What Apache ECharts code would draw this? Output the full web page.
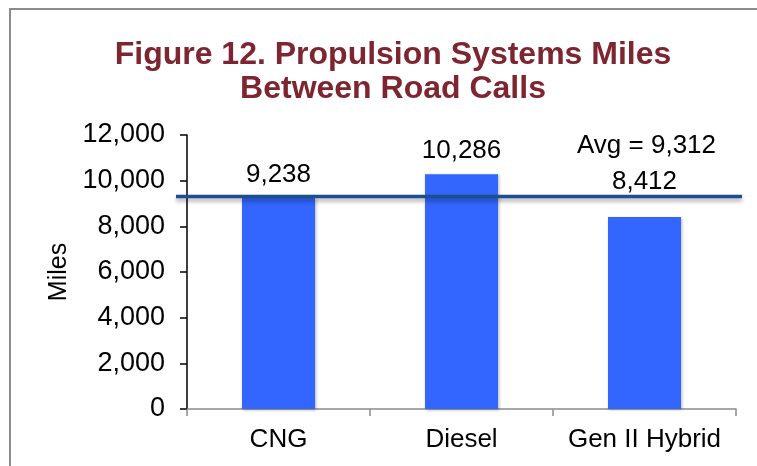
<!DOCTYPE html>
<html lang="en">

<head>
    <meta charset="UTF-8" />
    <title>Figure 12</title>
    <style>
        html, body {
            margin: 0;
            padding: 0;
            background: #fff;
        }

        #chart {
            width: 757px;
            height: 466px;
        }
    </style>
</head>

<body>
    <div id="chart"></div>

    <script src="https://cdn.jsdelivr.net/npm/echarts@6/dist/echarts.min.js"></script>
    <script>
        // data
        const categories = ['CNG', 'Diesel', 'Gen II Hybrid']
        const milesValues = [9238, 10286, 8412]
        const avgValue = 9312
        const yTicks = { min: 0, max: 12000, interval: 2000 }

        const font = 'Liberation Sans, Arial, sans-serif'
        const fmt = v => v.toLocaleString('en-US')

        // bar data, the hybrid label sits a bit higher like in the original
        const barData = milesValues.map((v, i) => {
            const item = { value: v }
            if (i === 2) item.label = { distance: 22 }
            return item
        })

        const chart = echarts.init(document.getElementById('chart'))

        const option = {
            backgroundColor: '#fff',
            animation: false,
            title: {
                text: 'Figure 12. Propulsion Systems Miles\nBetween Road Calls',
                left: 388,
                top: 33,
                textAlign: 'center',
                textStyle: {
                    fontFamily: font,
                    fontSize: 32,
                    fontWeight: 'bold',
                    color: '#7d2530',
                    lineHeight: 34
                }
            },
            graphic: [
                {
                    // outer chart border (runs off right/bottom edge)
                    type: 'rect',
                    shape: { x: 10, y: 9, width: 800, height: 500 },
                    style: { fill: 'none', stroke: '#8c8c8c', lineWidth: 2 },
                    silent: true
                },
                {
                    type: 'text',
                    left: 577,
                    top: 133,
                    style: {
                        text: 'Avg = ' + fmt(avgValue),
                        font: '26px ' + font,
                        fill: '#000'
                    }
                }
            ],
            grid: [
                { left: 187, right: 21, top: 135, bottom: 57 },
                // wider grid only for the average line
                { left: 176, right: 15, top: 135, bottom: 57 }
            ],
            xAxis: [
                {
                    type: 'category',
                    gridIndex: 0,
                    data: categories,
                    axisLine: { lineStyle: { color: '#8c8c8c', width: 1.5 } },
                    axisTick: { show: true, length: 7, lineStyle: { color: '#8c8c8c', width: 1.5 } },
                    axisLabel: {
                        color: '#000',
                        fontSize: 26,
                        fontFamily: font,
                        margin: 18,
                        interval: 0,
                        hideOverlap: false
                    }
                },
                { type: 'value', gridIndex: 1, min: 0, max: 1, show: false }
            ],
            yAxis: [
                {
                    type: 'value',
                    gridIndex: 0,
                    min: yTicks.min,
                    max: yTicks.max,
                    interval: yTicks.interval,
                    name: 'Miles',
                    nameLocation: 'middle',
                    nameGap: 112,
                    nameRotate: 90,
                    nameTextStyle: { color: '#000', fontSize: 25, fontFamily: font },
                    splitLine: { show: false },
                    axisLine: { show: true, lineStyle: { color: '#000', width: 1.5 } },
                    axisTick: { show: true, length: 7, lineStyle: { color: '#000', width: 1.5 } },
                    axisLabel: {
                        color: '#000',
                        fontSize: 27,
                        fontFamily: font,
                        margin: 22,
                        formatter: v => fmt(v)
                    }
                },
                { type: 'value', gridIndex: 1, min: yTicks.min, max: yTicks.max, show: false }
            ],
            series: [
                {
                    type: 'bar',
                    xAxisIndex: 0,
                    yAxisIndex: 0,
                    data: barData,
                    barWidth: 73,
                    itemStyle: {
                        color: '#3366ff',
                        shadowColor: 'rgba(0,0,0,0.3)',
                        shadowBlur: 3,
                        shadowOffsetX: 1,
                        shadowOffsetY: 1
                    },
                    label: {
                        show: true,
                        position: 'top',
                        distance: 10,
                        color: '#000',
                        fontSize: 26,
                        fontFamily: font,
                        formatter: p => fmt(p.value)
                    },
                    z: 2
                },
                {
                    type: 'line',
                    xAxisIndex: 1,
                    yAxisIndex: 1,
                    data: [[0, avgValue], [1, avgValue]],
                    symbol: 'none',
                    lineStyle: {
                        color: '#1b4f8f',
                        width: 3.5,
                        shadowColor: 'rgba(0,0,0,0.35)',
                        shadowBlur: 4,
                        shadowOffsetY: 3
                    },
                    z: 5
                }
            ]
        }

        chart.setOption(option)
    </script>
</body>

</html>
